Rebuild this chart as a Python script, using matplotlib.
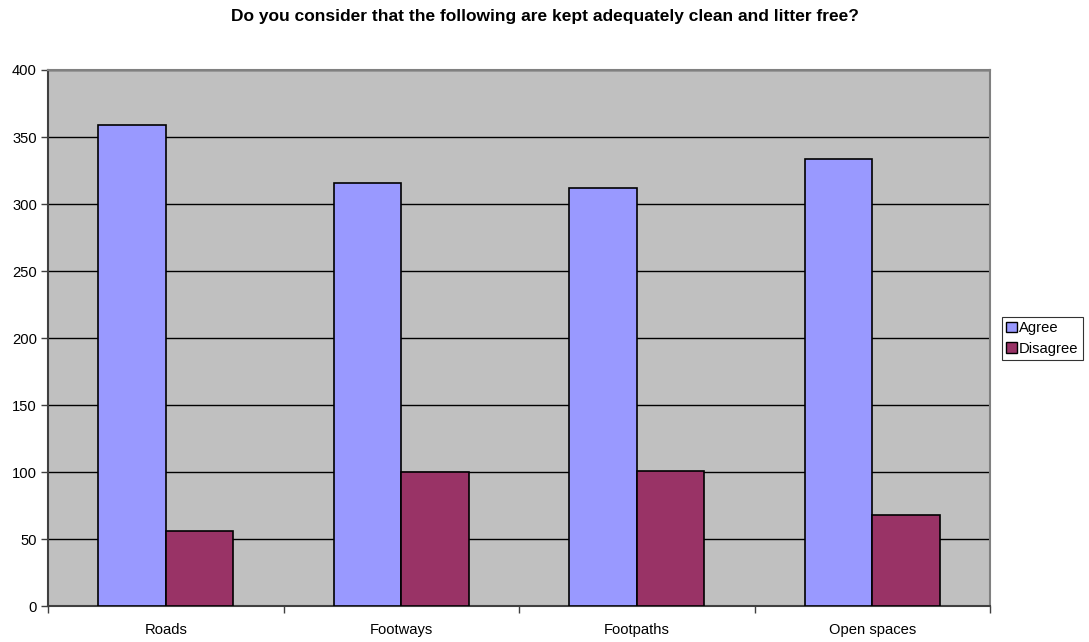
import numpy as np
import matplotlib.pyplot as plt
from matplotlib.patches import Patch

plt.rcParams["font.family"] = ["Liberation Sans", "DejaVu Sans"]

# data
categories = ["Roads", "Footways", "Footpaths", "Open spaces"]
agree = [359, 316, 312, 334]
disagree = [56, 100, 101, 68]
series_names = ["Agree", "Disagree"]

AGREE_COLOR = "#9999FF"
DISAGREE_COLOR = "#993366"
FS = 10.6

fig = plt.figure(figsize=(10.89, 6.42), dpi=100)
ax = fig.add_axes([0.0441, 0.0553, 0.8650, 0.8357])
ax.set_facecolor("#C0C0C0")

x = np.arange(len(categories))
width = 0.287
ax.bar(x - width / 2, agree, width, color=AGREE_COLOR, edgecolor="black",
       linewidth=1.2, zorder=3)
ax.bar(x + width / 2, disagree, width, color=DISAGREE_COLOR, edgecolor="black",
       linewidth=1.2, zorder=3)

ax.set_xlim(-0.5, len(categories) - 0.5)
ax.set_ylim(0, 400)
ax.set_yticks(np.arange(0, 401, 50))
ax.yaxis.grid(True, color="black", linewidth=1, zorder=1)
ax.set_axisbelow(True)

# category labels centered, ticks at boundaries
ax.set_xticks(x)
ax.set_xticklabels(categories, fontsize=FS)
ax.tick_params(axis="x", length=0, pad=12)
ax.set_xticks(np.arange(-0.5, len(categories)), minor=True)
ax.tick_params(axis="x", which="minor", length=5, width=1, color="#404040",
               direction="out")
ax.tick_params(axis="y", length=5, width=1, color="#404040", labelsize=FS,
               direction="out", pad=3)

for side in ["top", "right"]:
    ax.spines[side].set_color("#808080")
    ax.spines[side].set_linewidth(1.5)
for side in ["left", "bottom"]:
    ax.spines[side].set_color("#404040")
    ax.spines[side].set_linewidth(1.5)

handles = [Patch(facecolor=AGREE_COLOR, edgecolor="black", linewidth=1),
           Patch(facecolor=DISAGREE_COLOR, edgecolor="black", linewidth=1)]
leg = fig.legend(handles, series_names, loc="center left",
                 bbox_to_anchor=(0.920, 0.473), fontsize=FS, frameon=True,
                 fancybox=False, edgecolor="black", handlelength=0.7,
                 handleheight=0.7, handletextpad=0.15, borderpad=0.3,
                 labelspacing=0.45, borderaxespad=0)
leg.get_frame().set_linewidth(0.8)

fig.text(0.5, 0.974, "Do you consider that the following are kept adequately clean and litter free?",
         ha="center", va="center", fontsize=12.5, fontweight="bold")

fig.savefig("out.png", dpi=100, facecolor="white")
